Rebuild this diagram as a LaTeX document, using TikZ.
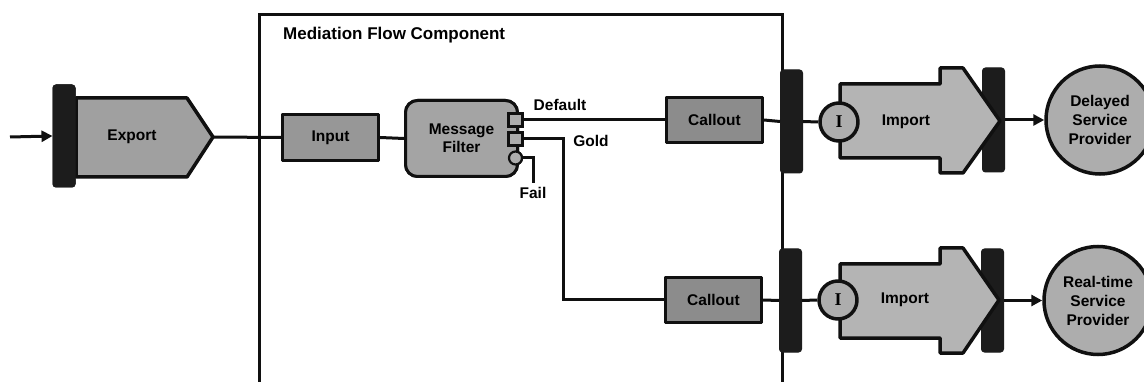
\documentclass[tikz,border=0pt]{standalone}
\usepackage{fontspec}
\setmainfont{Liberation Sans}
\newfontfamily\ifont{Liberation Serif}
\usetikzlibrary{arrows.meta}
\definecolor{barc}{HTML}{1C1C1C}
\definecolor{linec}{HTML}{101010}
\definecolor{exfill}{HTML}{A0A0A0}
\definecolor{infill}{HTML}{979797}
\definecolor{mffill}{HTML}{A4A4A4}
\definecolor{cofill}{HTML}{8C8C8C}
\definecolor{imfill}{HTML}{B4B4B4}
\definecolor{spfill}{HTML}{ADADAD}
\tikzset{
  lbl/.style={font=\bfseries\fontsize{15.5}{18}\selectfont, text=black, inner sep=0pt},
  conn/.style={draw=linec, line width=3pt},
  arr/.style={conn, -{Triangle[length=11pt,width=11pt]}},
  outl/.style={draw=linec, line width=3pt, line join=round},
  barbox/.style={fill=barc, draw=barc, line width=1pt, rounded corners=3pt, minimum width=22pt, inner sep=0pt},
  boxnode/.style={outl, rectangle, inner sep=0pt, font=\bfseries\fontsize{15.5}{18}\selectfont},
  port/.style={draw=linec, fill=spfill, line width=2.2pt, rectangle, minimum width=14pt, minimum height=13pt, inner sep=0pt},
  iface/.style={outl, line width=3.5pt, circle, fill=spfill, minimum size=38pt, inner sep=0pt, font=\ifont\bfseries\fontsize{18}{18}\selectfont},
  prov/.style={draw=linec, line width=3.5pt, circle, fill=spfill, minimum size=108pt, inner sep=0pt, align=center, font=\bfseries\fontsize{15.5}{19}\selectfont}
}
\begin{document}
\begin{tikzpicture}[x=1pt,y=-1pt]
\useasboundingbox (0,0) rectangle (1144,382);
\clip (0,0) rectangle (1144,382);
\fill[white] (0,0) rectangle (1144,382);

% Mediation flow component box (open at the bottom)
\coordinate (mbl) at (259,392);
\coordinate (mtl) at (259,15);
\coordinate (mtr) at (782,15);
\coordinate (mbr) at (782,392);
\draw[draw=linec, line width=3pt] (mbl) -- (mtl) -- (mtr) -- (mbr);
\node[lbl, font=\bfseries\fontsize{17}{20}\selectfont, anchor=base west] (title) at (283,40) {Mediation Flow Component};

% nodes (positions)
\node[barbox, minimum height=102pt] (exbar) at (64,136) {};
\coordinate (start) at (10,137);
\coordinate (extip) at (213,137);
\node[boxnode, fill=infill, minimum width=96pt, minimum height=46pt] (input) at (330.5,137.5) {Input};
\node[boxnode, fill=mffill, rounded corners=12pt, minimum width=112pt, minimum height=76pt, align=center] (filter) at (461.5,138.5) {Message\\Filter};
\node[port] (pdef) at (515.5,120) {};
\node[port] (pgold) at (515.5,139) {};
\node[draw=linec, fill=spfill, line width=2.2pt, circle, minimum size=13pt, inner sep=0pt] (pfail) at (515.5,158) {};
\node[boxnode, fill=cofill, minimum width=96pt, minimum height=45pt] (call1) at (714.5,120) {Callout};
\node[boxnode, fill=cofill, minimum width=96pt, minimum height=45pt] (call2) at (713.5,300) {Callout};
\node[barbox, minimum height=103pt] (bar1) at (791.5,121.5) {};
\node[barbox, minimum height=103pt] (bar2) at (790.5,300.5) {};
\node[barbox, minimum height=104pt] (ib1) at (993.5,120) {};
\node[barbox, minimum height=103pt] (ib2) at (992.5,300.5) {};
\coordinate (goldx) at (563,0);
\coordinate (failend) at (533,183);

% connectors
\draw[arr] (start) -- (exbar.west);
\draw[conn] (extip) -- (input.west);
\draw[conn] (input.east) -- (filter.west);
\draw[conn] (pdef.east) -- (call1.west);
\draw[conn] (pgold.east) -- (pgold.east -| goldx) |- (call2.west);
\draw[conn] (pfail.east) -| (failend);
\draw[conn] (call1.east) -- (bar1.west);
\draw[conn] (call2.east) -- (bar2.west);

% redraw components on top of lines
\draw[outl, line width=3.5pt, fill=exfill] (76,98) -- (187,98) -- (213,137) -- (187,177) -- (76,177) -- cycle;
\node[lbl] (export) at (132,137) {Export};
\node[barbox, minimum height=102pt] at (exbar) {};
\node[boxnode, fill=infill, minimum width=96pt, minimum height=46pt] at (input) {Input};
\node[boxnode, fill=mffill, rounded corners=12pt, minimum width=112pt, minimum height=76pt, align=center] at (filter) {Message\\Filter};
\node[port] at (pdef) {};
\node[port] at (pgold) {};
\node[draw=linec, fill=spfill, line width=2.2pt, circle, minimum size=13pt, inner sep=0pt] at (pfail) {};
\node[boxnode, fill=cofill, minimum width=96pt, minimum height=45pt] at (call1) {Callout};
\node[boxnode, fill=cofill, minimum width=96pt, minimum height=45pt] at (call2) {Callout};

\node[lbl] (ldef) at (560,105) {Default};
\node[lbl] (lgold) at (591,141) {Gold};
\node[lbl] (lfail) at (533,193) {Fail};

% imports
\draw[outl, line width=3.5pt, fill=imfill] (840,84) -- (940,84) -- (940,68) -- (963,68) -- (1000,121) -- (963,173) -- (940,173) -- (940,158) -- (840,158) -- cycle;
\draw[outl, line width=3.5pt, fill=imfill] (840,264) -- (940,264) -- (940,248) -- (963,248) -- (999,300) -- (963,353) -- (940,353) -- (940,338) -- (840,338) -- cycle;
\node[iface] (i1) at (839,122) {I};
\node[iface] (i2) at (838,300) {I};
\draw[conn] (bar1.east) -- (i1.west);
\draw[conn] (bar2.east) -- (i2.west);
\node[lbl] (imp1) at (906,122) {Import};
\node[lbl] (imp2) at (905,300) {Import};

% providers
\node[prov] (delayed) at (1100,120) {Delayed\\Service\\Provider};
\node[prov] (realtime) at (1098,300.5) {Real-time\\Service\\Provider};
\draw[arr] (ib1.east) -- (delayed.west);
\draw[arr] (ib2.east) -- (realtime.west);
\end{tikzpicture}
\end{document}
